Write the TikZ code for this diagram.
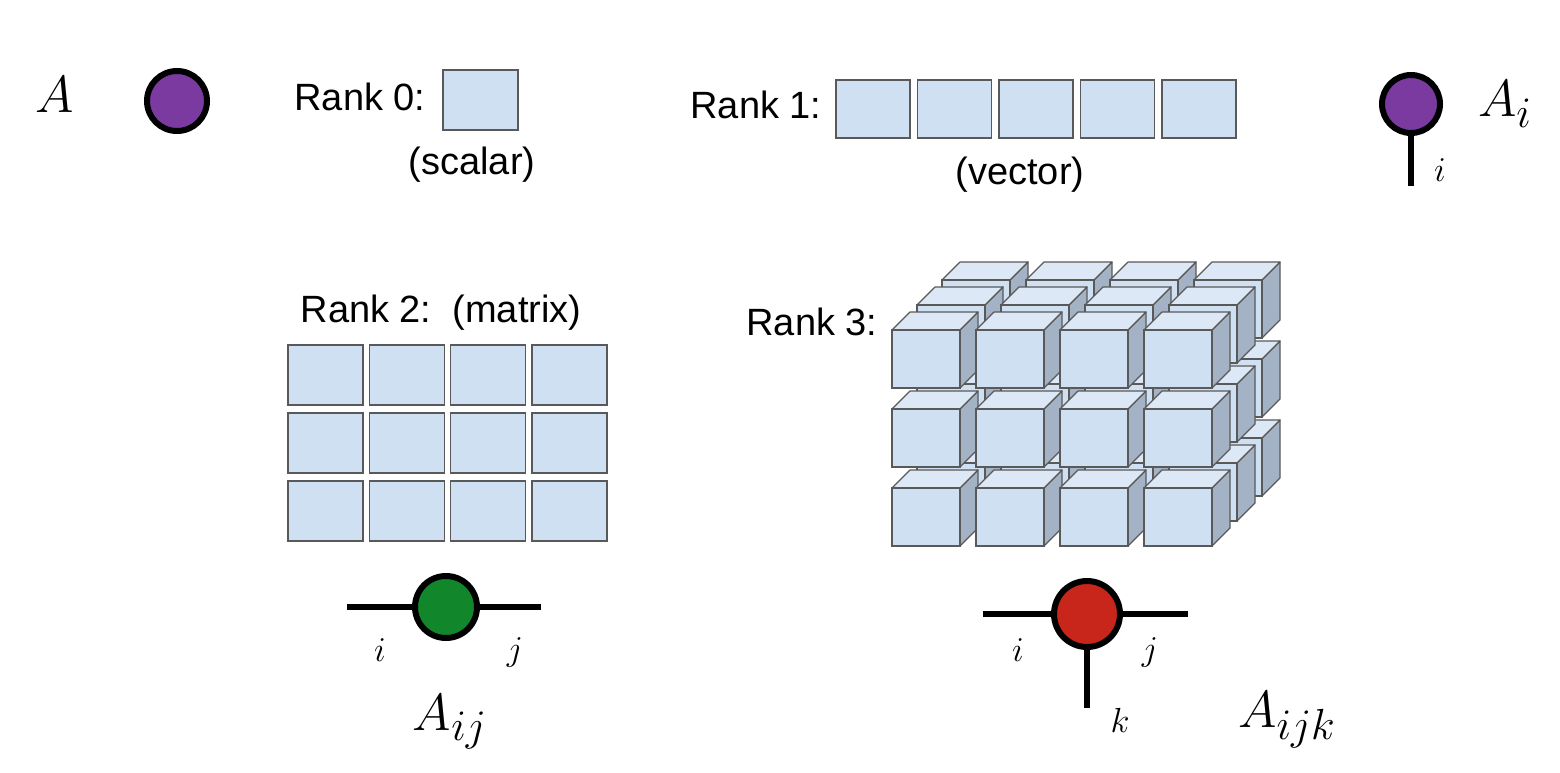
\documentclass[tikz,border=0pt]{standalone}
\usepackage{fontspec}
\setmainfont{Liberation Sans}
\newcommand\tzbig[1]{\scalebox{2.1}{\fontsize{24.88}{26}\selectfont$#1$}}
\newcommand\tzidx[1]{\scalebox{1.4}{\fontsize{24.88}{26}\selectfont$#1$}}
\begin{document}
\begin{tikzpicture}[x=1pt,y=-1pt,
  cell/.style={draw=black!65,fill=cellc,line width=1.2pt},
  side/.style={draw=black!65,fill=sidec,line width=1.2pt,line join=round},
  top/.style={draw=black!65,fill=topc,line width=1.2pt,line join=round},
  lbl/.style={font=\fontsize{38}{40}\selectfont},
  leg/.style={line width=6pt},
  tn/.style={circle,draw=black,line width=6pt,inner sep=0pt}]
\definecolor{cellc}{HTML}{CFE0F3}
\definecolor{sidec}{HTML}{A3B2C4}
\definecolor{topc}{HTML}{DCE8F5}
\definecolor{purp}{HTML}{7B3AA0}
\definecolor{grn}{HTML}{12862A}
\definecolor{rd}{HTML}{C8261A}
\useasboundingbox (0,0) rectangle (1560,773);
% rank 0
\node (A) at (55,95) {\tzbig{A}};
\node[tn,fill=purp,minimum size=60pt] (c0) at (177,101) {};
\node[lbl] (r0) at (360,97) {Rank 0:};
\draw[cell] (443,70) rectangle (518,130);
\node[lbl] (s0) at (472,165) {(scalar)};
% rank 1
\node[lbl] (r1) at (756,105) {Rank 1:};
\foreach \i in {0,...,4}{\draw[cell] (836+81.5*\i,80) rectangle ++(74,58);}
\node[lbl] (v1) at (1020,175) {(vector)};
\coordinate (c1e) at (1411,186);
\draw[leg] (1411,104) -- (c1e);
\node[tn,fill=purp,minimum size=58pt] (c1) at (1411,104) {};
\node (Ai) at (1505,104) {\tzbig{A_i}};
\node (i1) at (1440,170) {\tzidx{i}};
% rank 2
\node[lbl] (r2) at (441,313) {Rank 2:\ \ (matrix)};
\foreach \i in {0,...,3}{\foreach \j in {0,...,2}{
  \draw[cell] (288+81.3*\i,345+68*\j) rectangle ++(75,60);}}
\coordinate (g1) at (347,607); \coordinate (g2) at (541,607);
\draw[leg] (g1) -- (g2);
\node[tn,fill=grn,minimum size=62pt] (c2) at (446,607) {};
\node (i2) at (380,650) {\tzidx{i}};
\node (j2) at (515,652) {\tzidx{j}};
\node (Aij) at (450,722) {\tzbig{A_{ij}}};
% rank 3
\node[lbl] (r3) at (812,322) {Rank 3:};
\foreach \d in {2,1,0}{
 \foreach \r in {2,1,0}{
  \foreach \c in {0,...,3}{
   \begin{scope}[shift={(892+84*\c+25*\d,330+79*\r-25*\d)}]
    \draw[side] (68,0) -- (86,-18) -- (86,40) -- (68,58) -- cycle;
    \draw[top] (0,0) -- (18,-18) -- (86,-18) -- (68,0) -- cycle;
    \draw[cell] (0,0) rectangle (68,58);
   \end{scope}}}}
\coordinate (r1a) at (983,614); \coordinate (r1b) at (1188,614); \coordinate (r1c) at (1087,708);
\draw[leg] (r1a) -- (r1b);
\draw[leg] (1087,614) -- (r1c);
\node[tn,fill=rd,minimum size=66pt] (c3) at (1087,614) {};
\node (i3) at (1018,650) {\tzidx{i}};
\node (j3) at (1150,652) {\tzidx{j}};
\node (k3) at (1120,720) {\tzidx{k}};
\node (Aijk) at (1287,720) {\tzbig{A_{ijk}}};
\end{tikzpicture}
\end{document}
